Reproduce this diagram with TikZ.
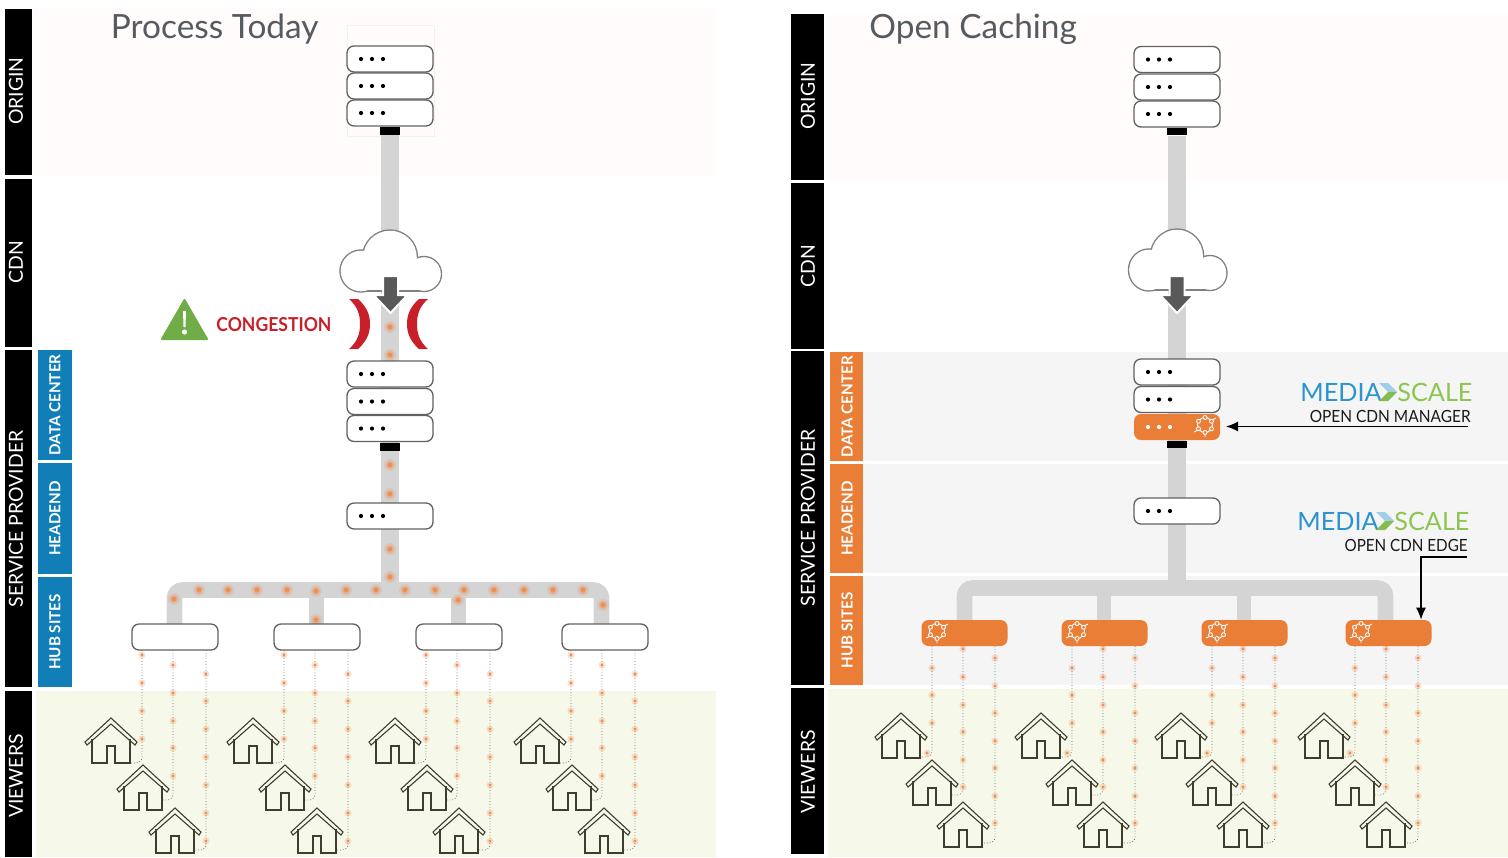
\documentclass[tikz,border=0pt]{standalone}
\usepackage{fontspec}
\usetikzlibrary{arrows.meta}
\setmainfont{Lato}
\definecolor{pipegray}{HTML}{D4D4D4}
\definecolor{hubblue}{HTML}{117EB8}
\definecolor{orangeb}{HTML}{EA7E37}
\definecolor{dotor}{HTML}{EE8F55}
\definecolor{pinkbg}{HTML}{FFFCFB}
\definecolor{greenbg}{HTML}{F6F9E9}
\definecolor{graybg}{HTML}{F5F5F5}
\definecolor{titlec}{HTML}{555B60}
\definecolor{housec}{HTML}{3D3E2C}
\definecolor{msblue}{HTML}{2B93CF}
\definecolor{msgreen}{HTML}{8CC651}
\definecolor{redc}{HTML}{C8202A}
\definecolor{warngreen}{HTML}{70AD47}
\tikzset{
  bandlabel/.style={rotate=90,inner sep=0pt,text=white,font=\fontsize{9.7}{12}\selectfont},
  sublabel/.style={rotate=90,inner sep=0pt,text=white,font=\fontsize{7.6}{9}\selectfont\bfseries},
  srv/.style={draw=black!62,fill=white,line width=.65pt,rounded corners=3.5pt,minimum width=43pt,minimum height=13pt,inner sep=0pt},
  srvor/.style={draw=none,fill=orangeb,rounded corners=3.5pt,minimum width=43pt,minimum height=13pt,inner sep=0pt},
  pipe/.style={draw=pipegray,line width=8.6pt},
  trunk/.style={draw=pipegray,line width=7.8pt,rounded corners=4pt},
  drop/.style={draw=black!55,line width=.4pt,densely dotted,rounded corners=3pt},
  foot/.style={fill=black,inner sep=0pt,minimum width=10pt,minimum height=3.6pt},
  title/.style={anchor=base west,inner sep=0pt,text=titlec,font=\fontsize{16.7}{18}\selectfont},
  logot/.style={anchor=base west,inner sep=0pt,font=\fontsize{12.6}{14}\selectfont},
  subt/.style={anchor=base east,inner sep=0pt,text=black!90,font=\fontsize{8.4}{10}\selectfont},
  callout/.style={draw=black,line width=.6pt,-{Latex[length=6pt,width=5pt]}},
}
\newcommand\smalldot[2]{\fill[dotor,opacity=.25] (#1,#2) circle (3.6);\fill[dotor] (#1,#2) circle (1.7);}
\newcommand\bigdot[2]{\fill[dotor,opacity=.2] (#1,#2) circle (6);\fill[dotor,opacity=.35] (#1,#2) circle (4.2);\fill[dotor] (#1,#2) circle (2.4);}
\newcommand\threedots[3]{\foreach \dx in {-29,-18,-7}{\fill[#3] (#1+\dx,#2) circle (2.1);}}
\newcommand\houseat[3]{%
  \coordinate (#1) at (#2,#3);
  \begin{scope}[shift={(#2,#3)}]
  \filldraw[fill=greenbg,draw=housec,line width=.55pt,line join=miter] (0,0)--(-26,24)--(-24,27)--(0,6)--(24,27)--(26,24)--cycle;
  \draw[housec,line width=.65pt] (-19,21)--(-19,45)--(-4,45)--(-4,28)--(4,28)--(4,45)--(19,45)--(19,21);
  \end{scope}}
\newcommand\hexicon[2]{%
  \begin{scope}[shift={(#1,#2)}]
  \draw[white,line width=.45pt] (0,0) circle (7.5);
  \draw[white,line width=.45pt] (-7,5)--(-11,7) (7,-5)--(11,-7) (0,8)--(0,12);
  \foreach \a in {30,90,...,330}{\filldraw[fill=orangeb,draw=white,line width=.45pt] (\a:7.5) circle (2);}
  \end{scope}}
\newcommand\cloudat[3]{%
  \begin{scope}[shift={(#1,#2)},xscale=#3]
  \foreach \shp in {0,1}{
    \ifnum\shp=0 \tikzset{cloudpart/.style={draw=black!50,fill=white,line width=1.4pt}}\else \tikzset{cloudpart/.style={fill=white}}\fi
    \path[cloudpart] (0,-34) circle (26.8);
    \path[cloudpart] (-29,-20.5) circle (20.3);
    \path[cloudpart] (34,-17.5) circle (16.8);
    \path[cloudpart] (-29,-20) rectangle (34,-1.2);
  }
  \end{scope}}
\newcommand\dnarrow[2]{%
  \filldraw[fill=black!65,draw=white,line width=1pt,line join=miter] (#1-7.5,#2)--(#1+7.5,#2)--(#1+7.5,#2+19)--(#1+17,#2+19)--(#1,#2+37)--(#1-17,#2+19)--(#1-7.5,#2+19)--cycle;}
\newcommand\mslogo[3]{%
  \node[logot,text=msblue] (#1m) at (#2,#3) {MEDIA};
  \node[logot,text=msgreen] (#1s) at (#2+97,#3) {SCALE};
  \fill[msblue!45] (#2+79,#3-18)--(#2+88,#3-18)--(#2+97,#3-9)--(#2+88,#3-9)--cycle;
  \fill[msgreen!95!black] (#2+97,#3-9)--(#2+88,#3+0)--(#2+79,#3+0)--(#2+88,#3-9)--cycle;}
\begin{document}
\begin{tikzpicture}[x=.5pt,y=-.5pt]
\useasboundingbox (0,0) rectangle (1508,857);
% backgrounds
\fill[pinkbg] (34,8) rectangle (716,176);
\fill[greenbg] (36,691) rectangle (716,857);
\fill[pinkbg] (826,14) rectangle (1508,180);
\fill[graybg] (830,352) rectangle (1508,461);
\fill[graybg] (830,464) rectangle (1508,573);
\fill[graybg] (830,576) rectangle (1508,685);
\fill[greenbg] (828,689) rectangle (1508,857);
\draw[red!8,line width=.3pt] (347,25) rectangle (434,136);
% side bands
\foreach \nm/\ya/\yb/\cy/\tx in {la/9/175/91/ORIGIN,lb/179/347/262/CDN,lc/350/687/519/SERVICE PROVIDER,ld/691/857/776/VIEWERS}{
  \fill[black] (5,\ya) rectangle (32,\yb);
  \node[bandlabel] (\nm) at (16,\cy) {\tx};
}
\foreach \nm/\ya/\yb/\cy/\tx in {ra/14/180/96/ORIGIN,rb/183/349/266/CDN,rc/351/685/518/SERVICE PROVIDER,rd/688/854/772/VIEWERS}{
  \fill[black] (791,\ya) rectangle (824,\yb);
  \node[bandlabel] (\nm) at (808,\cy) {\tx};
}
\foreach \nm/\ya/\yb/\tx in {lp/350/460/DATA CENTER,lq/463/574/HEADEND,lr/577/687/HUB SITES}{
  \fill[hubblue] (38,\ya) rectangle (72,\yb);
  \node[sublabel] (\nm) at (55,{(\ya+\yb)/2}) {\tx};
}
\foreach \nm/\ya/\yb/\tx in {rp/352/461/DATA CENTER,rq/464/573/HEADEND,rr/576/685/HUB SITES}{
  \fill[orangeb] (830,\ya) rectangle (863,\yb);
  \node[sublabel] (\nm) at (847,{(\ya+\yb)/2}) {\tx};
}
% titles
\node[title] (ttl) at (110.5,38) {Process Today};
\node[title] (ttr) at (869,38) {Open Caching};
\coordinate (ltj) at (390,590);
\coordinate (la0) at (174.5,590);
\coordinate (la1) at (601.5,590);
\coordinate (rtj) at (1177,588);
\coordinate (ra0) at (964.5,588);
\coordinate (ra1) at (1385.5,588);
\node[foot] (lfoot1) at (390,131) {};
\node[foot] (rfoot1) at (1177,131.5) {};
\coordinate (lhub1top) at (174.5,624);
\coordinate (lhub2top) at (316.5,624);
\coordinate (lhub3top) at (458.5,624);
\coordinate (lhub4top) at (601.5,624);
\coordinate (rhub1top) at (964.5,621);
\coordinate (rhub2top) at (1104,621);
\coordinate (rhub3top) at (1244,621);
\coordinate (rhub4top) at (1385.5,621);
% pipes
\draw[pipe] (lfoot1.south) -- (ltj);
\draw[pipe] (rfoot1.south) -- (rtj);
\draw[trunk] (lhub1top) -- (la0) -- (la1) -- (lhub4top);
\draw[trunk] (lhub2top) -- (lhub2top |- ltj);
\draw[trunk] (lhub3top) -- (lhub3top |- ltj);
\draw[trunk] (rhub1top) -- (ra0) -- (ra1) -- (rhub4top);
\draw[trunk,line width=7pt] (rhub2top) -- (rhub2top |- rtj);
\draw[trunk,line width=7pt] (rhub3top) -- (rhub3top |- rtj);
\node[foot] (lfoot2) at (390,447) {};
\node[foot] (rfoot2) at (1177,444.5) {};
% pipe dots
\foreach \y in {327,355,465,494,522,549,577}{\bigdot{390}{\y}}
\foreach \x in {199,228,257,287,346,376,405,435,464,494,524,553,583}{\bigdot{\x}{590}}
\bigdot{174}{599} \bigdot{603}{605} \bigdot{316}{591} \bigdot{316}{620} \bigdot{458}{600}
% drop lines, houses left
\foreach \off/\n in {0/a,142/b,284/c,429/d}{
  \draw[drop] (\off+142,650) -- (\off+142,763) -- (\off+131,763);
  \draw[drop] (\off+173,650) -- (\off+173,800) -- (\off+162,800);
  \draw[drop] (\off+206,650) -- (\off+206,850) -- (\off+195,850);
  \foreach \y in {655,683,711,739}{\smalldot{\off+142}{\y}}
  \foreach \y in {665,693,721,748,776}{\smalldot{\off+173}{\y}}
  \foreach \y in {674,701,729,757,785,813,841}{\smalldot{\off+206}{\y}}
  \houseat{lh\n1}{\off+111}{718}
  \houseat{lh\n2}{\off+143}{765}
  \houseat{lh\n3}{\off+175}{808}
}
% drop lines, houses right
\foreach \off/\n in {0/a,140/b,280/c,423/d}{
  \draw[drop] (\off+932,646) -- (\off+932,757) -- (\off+921,757);
  \draw[drop] (\off+963,646) -- (\off+963,795) -- (\off+952,795);
  \draw[drop] (\off+995,646) -- (\off+995,843) -- (\off+983,843);
  \foreach \y in {668,695,723}{\smalldot{\off+932}{\y}}
  \smalldot{\off+927}{753}
  \foreach \y in {649,677,705,732,760,787}{\smalldot{\off+963}{\y}}
  \foreach \y in {658,686,713,741,768,796,823}{\smalldot{\off+995}{\y}}
  \houseat{rh\n1}{\off+901}{713}
  \houseat{rh\n2}{\off+932}{760}
  \houseat{rh\n3}{\off+963}{802}
}
% hub boxes
\foreach \x/\n in {175/1,317/2,459/3,605/4}{\node[srv] (lhub\n) at (\x,637) {};}
\foreach \x/\n in {964.5/1,1104.5/2,1244.5/3,1388.5/4}{
  \node[srvor] (rhub\n) at (\x,633) {};
  \hexicon{\x-27.5}{631}
}
% servers left
\foreach \n/\y in {1/59,2/86,3/113,4/374,5/401.5,6/428.5,7/516}{\node[srv] (ls\n) at (390,\y) {}; \threedots{390}{\y}{black}}
% servers right
\foreach \n/\y in {1/59.5,2/87,3/114,4/372,5/399.5,7/511}{\node[srv] (rs\n) at (1177,\y) {}; \threedots{1177}{\y}{black}}
\node[srvor] (rs6) at (1177,427) {}; \threedots{1177}{427}{white}
\hexicon{1205}{425}
% clouds
\cloudat{390}{291.5}{1}
\dnarrow{390.5}{276}
\cloudat{1177}{290.5}{.97}
\dnarrow{1177}{276}
% congestion
\fill[redc] (349,299)--(358,299) .. controls (367,307) and (370,315) .. (370,324) .. controls (370,333) and (367,341) .. (358,349) -- (349,349) .. controls (358,341) and (360,333) .. (360,324) .. controls (360,315) and (358,307) .. (349,299) -- cycle;
\fill[redc] (428,299)--(419,299) .. controls (410,307) and (407,315) .. (407,324) .. controls (407,333) and (410,341) .. (419,349) -- (428,349) .. controls (419,341) and (417,333) .. (417,324) .. controls (417,315) and (419,307) .. (428,299) -- cycle;
\filldraw[fill=warngreen,draw=warngreen,line width=1pt,line join=round] (184.5,300)--(207,339)--(162,339)--cycle;
\fill[white] (183,311)--(186,311)--(185.5,327)--(183.5,327)--cycle;
\fill[white] (184.5,332) circle (2.6);
\node[anchor=base west,inner sep=0pt,text=redc,font=\fontsize{9.6}{11}\selectfont\bfseries] (cong) at (216,331) {\scalebox{.915}[1]{CONGESTION}};
% logos
\mslogo{lga}{1300}{401}
\node[subt] (mgr) at (1471,422) {\scalebox{.92}[1]{OPEN CDN MANAGER}};
\mslogo{lgb}{1297}{530}
\node[subt] (edg) at (1468,551) {\scalebox{.905}[1]{OPEN CDN EDGE}};
\coordinate (mgrarrow) at (1468,426.5);
\coordinate (mgrtip) at (1226,426.5);
\coordinate (edgarrow) at (1467,557);
\coordinate (edgbend) at (1421,557);
\draw[callout] (mgrarrow) -- (mgrtip);
\draw[callout] (edgarrow) -- (edgbend) -- (edgbend |- rhub4.north);
\end{tikzpicture}
\end{document}
